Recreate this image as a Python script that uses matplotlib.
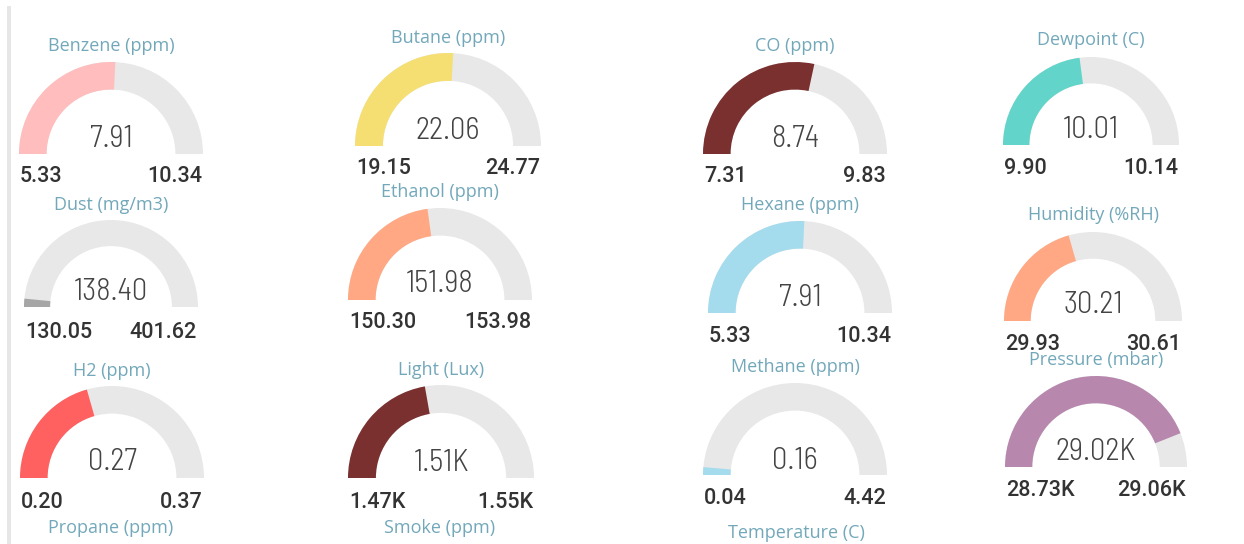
import matplotlib
matplotlib.use("Agg")
import logging
logging.getLogger("matplotlib.font_manager").setLevel(logging.ERROR)
import matplotlib.pyplot as plt
from matplotlib.patches import Wedge, Rectangle

# ---------------- data ----------------
titles = ["Benzene (ppm)", "Butane (ppm)", "CO (ppm)", "Dewpoint (C)",
          "Dust (mg/m3)", "Ethanol (ppm)", "Hexane (ppm)", "Humidity (%RH)",
          "H2 (ppm)", "Light (Lux)", "Methane (ppm)", "Pressure (mbar)"]
values = [7.91, 22.06, 8.74, 10.01,
          138.40, 151.98, 7.91, 30.21,
          0.27, 1506, 0.16, 29020]
mins = [5.33, 19.15, 7.31, 9.90,
        130.05, 150.30, 5.33, 29.93,
        0.20, 1470, 0.04, 28730]
maxs = [10.34, 24.77, 9.83, 10.14,
        401.62, 153.98, 10.34, 30.61,
        0.37, 1551, 4.42, 29060]
k_format = [False, False, False, False,
            False, False, False, False,
            False, True, False, True]
fill_colors = ["#ffbdbd", "#f5df72", "#7b3030", "#62d4ca",
               "#a6a6a6", "#ffa883", "#a4dcee", "#ffa883",
               "#ff6060", "#7b3030", "#a4dcee", "#b787ae"]
bottom_titles = ["Propane (ppm)", "Smoke (ppm)", "Temperature (C)"]

# ---------------- layout (pixels, top-down) ----------------
# cx, baseline y, outer radius, title y, value y, label y
layout = [
    (111, 154, 92, 46, 139, 177), (448, 146, 93, 38, 131, 169),
    (795, 154, 92, 46, 139, 177), (1091, 145, 88, 40, 130, 168),
    (111, 307, 87, 205, 292, 332), (440, 300, 92, 192, 284, 323),
    (800, 313, 92, 205, 298, 336), (1093, 321, 89, 215, 305, 344),
    (112, 478, 92, 371, 462, 502), (441, 478, 93, 370, 463, 502),
    (795, 475, 92, 367, 461, 499), (1096, 467, 91, 360, 452, 490),
]
bottom_layout = [(111, 528), (440, 528), (796, 533)]

W, H = 1244, 544
fig = plt.figure(figsize=(W / 100, H / 100), dpi=100)
ax = fig.add_axes([0, 0, 1, 1])
ax.set_xlim(0, W)
ax.set_ylim(0, H)
ax.set_aspect("equal")
ax.axis("off")


def Y(y):
    return H - y


track = "#e8e8e8"
title_col = "#72a8ba"
value_fonts = ["Barlow Semi Condensed", "Roboto Condensed", "Roboto"]
label_fonts = ["Roboto", "DejaVu Sans"]
title_fonts = ["Open Sans", "DejaVu Sans"]

ax.add_patch(Rectangle((7, 0), 4, Y(6), color="#e6e6e6", lw=0))


def fmt(v, k):
    if k:
        return f"{v/1000:.2f}K"
    return f"{v:.2f}"


for i in range(len(titles)):
    cx, by, R, ty, vy, ly = layout[i]
    wdt = 0.3 * R
    frac = (values[i] - mins[i]) / (maxs[i] - mins[i])
    ax.add_patch(Wedge((cx, Y(by)), R, 0, 180, width=wdt, color=track, lw=0))
    ax.add_patch(Wedge((cx, Y(by)), R, 180 - 180 * frac, 180, width=wdt,
                       color=fill_colors[i], lw=0))
    ax.text(cx, Y(ty), titles[i], ha="center", va="center", color=title_col,
            fontsize=13, family=title_fonts)
    ax.text(cx, Y(vy), fmt(values[i], k_format[i]), ha="center", va="center",
            color="#444444", fontsize=22, family=value_fonts, weight=300)
    ax.text(cx - R + 1, Y(ly), fmt(mins[i], k_format[i]), ha="left", va="center",
            color="#333333", fontsize=15.5, family=label_fonts, weight="medium")
    ax.text(cx + R - 1, Y(ly), fmt(maxs[i], k_format[i]), ha="right", va="center",
            color="#333333", fontsize=15.5, family=label_fonts, weight="medium")

for t, (x, y) in zip(bottom_titles, bottom_layout):
    ax.text(x, Y(y), t, ha="center", va="center", color=title_col,
            fontsize=13, family=title_fonts)

fig.savefig("out.png", dpi=100)
